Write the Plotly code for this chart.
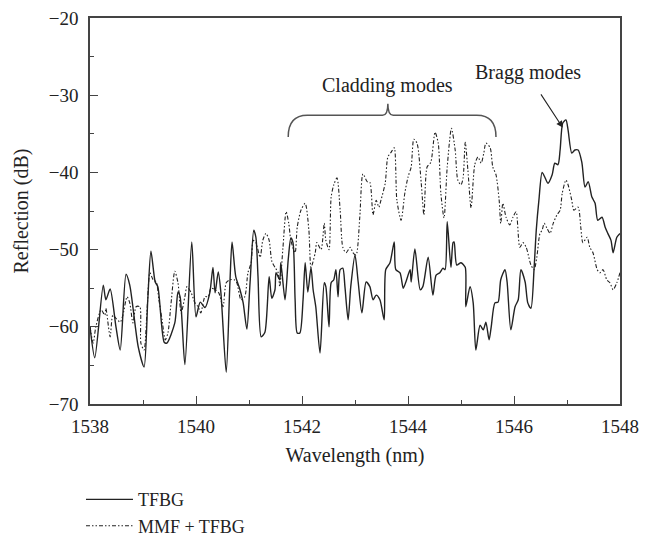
import plotly.graph_objects as go

# TFBG (solid)
tfbg_wl = [1538.00, 1538.09, 1538.25, 1538.30, 1538.38, 1538.49, 1538.57, 1538.68, 1538.75, 1538.91,
           1539.02, 1539.09, 1539.15, 1539.23, 1539.28, 1539.40, 1539.45, 1539.60, 1539.66, 1539.70,
           1539.79, 1539.92, 1540.00, 1540.08, 1540.17, 1540.26, 1540.32, 1540.36, 1540.42, 1540.47,
           1540.57, 1540.64, 1540.68, 1540.75, 1540.83, 1540.89, 1540.96, 1541.02, 1541.09, 1541.13,
           1541.17, 1541.23, 1541.30, 1541.38, 1541.43, 1541.49, 1541.51, 1541.58, 1541.60, 1541.68,
           1541.74, 1541.79, 1541.83, 1541.87, 1541.91, 1541.96, 1542.02, 1542.06, 1542.11, 1542.17,
           1542.21, 1542.26, 1542.34, 1542.42, 1542.45, 1542.51, 1542.55, 1542.60, 1542.64, 1542.68,
           1542.72, 1542.77, 1542.81, 1542.87, 1542.92, 1543.00, 1543.06, 1543.13, 1543.21, 1543.28,
           1543.34, 1543.40, 1543.47, 1543.55, 1543.58, 1543.66, 1543.74, 1543.77, 1543.85, 1543.91,
           1543.96, 1544.04, 1544.06, 1544.13, 1544.23, 1544.28, 1544.38, 1544.47, 1544.53, 1544.60,
           1544.66, 1544.70, 1544.74, 1544.81, 1544.85, 1544.87, 1544.92, 1545.00, 1545.08, 1545.09,
           1545.17, 1545.23, 1545.28, 1545.36, 1545.42, 1545.47, 1545.53, 1545.57, 1545.64, 1545.70,
           1545.75, 1545.83, 1545.87, 1545.94, 1546.02, 1546.08, 1546.13, 1546.21, 1546.26, 1546.32,
           1546.38, 1546.42, 1546.47, 1546.53, 1546.58, 1546.64, 1546.72, 1546.77, 1546.83, 1546.87,
           1546.92, 1546.98, 1547.02, 1547.09, 1547.15, 1547.21, 1547.28, 1547.34, 1547.40, 1547.47,
           1547.53, 1547.58, 1547.66, 1547.72, 1547.77, 1547.83, 1547.87, 1547.94, 1548.00]
tfbg_db = [-60.0, -64.0, -54.6, -56.5, -55.1, -60.0, -63.0, -53.2, -54.6, -62.6,
           -65.2, -56.5, -50.2, -54.2, -54.8, -62.0, -62.1, -59.5, -55.5, -56.1,
           -64.9, -49.0, -58.7, -56.8, -57.5, -55.6, -52.3, -55.6, -52.9, -55.6,
           -65.9, -54.3, -49.0, -53.5, -55.2, -56.9, -60.3, -54.3, -47.5, -48.4,
           -53.5, -61.3, -60.7, -53.5, -56.3, -55.2, -53.0, -53.9, -51.7, -56.5,
           -51.3, -48.5, -49.1, -56.5, -60.8, -60.8, -56.5, -51.7, -55.5, -52.3,
           -55.2, -57.4, -63.4, -54.3, -54.8, -60.0, -54.3, -53.9, -52.6, -56.1,
           -52.6, -52.4, -54.8, -59.1, -54.8, -50.7, -54.2, -58.2, -54.2, -54.8,
           -56.5, -55.9, -56.5, -59.1, -52.6, -51.7, -49.0, -52.6, -53.0, -55.0,
           -54.2, -52.6, -54.2, -49.9, -55.2, -54.8, -51.0, -55.9, -53.3, -53.0,
           -52.4, -52.6, -46.4, -52.3, -49.1, -49.0, -52.0, -51.7, -52.3, -57.4,
           -54.8, -56.9, -63.0, -59.8, -60.4, -59.4, -61.7, -60.0, -56.9, -56.8,
           -53.9, -52.6, -54.2, -60.4, -57.4, -56.5, -52.6, -54.2, -56.9, -57.6,
           -52.3, -47.5, -43.6, -40.0, -40.6, -41.4, -40.3, -38.8, -39.0, -37.1,
           -33.6, -33.2, -34.5, -37.5, -37.1, -37.1, -38.7, -41.9, -41.2, -43.2,
           -44.0, -46.2, -45.8, -47.1, -47.9, -48.8, -50.4, -48.4, -47.9]

# MMF + TFBG (dash-dot)
mmf_wl = [1538.00, 1538.06, 1538.11, 1538.21, 1538.28, 1538.30, 1538.38, 1538.43, 1538.49, 1538.57,
          1538.62, 1538.70, 1538.75, 1538.81, 1538.87, 1538.94, 1538.96, 1539.02, 1539.08, 1539.13,
          1539.19, 1539.25, 1539.30, 1539.36, 1539.42, 1539.47, 1539.53, 1539.60, 1539.66, 1539.72,
          1539.79, 1539.83, 1539.91, 1539.98, 1540.04, 1540.09, 1540.17, 1540.23, 1540.28, 1540.36,
          1540.43, 1540.51, 1540.57, 1540.64, 1540.72, 1540.77, 1540.85, 1540.92, 1540.98, 1541.04,
          1541.08, 1541.13, 1541.21, 1541.26, 1541.32, 1541.38, 1541.43, 1541.49, 1541.55, 1541.58,
          1541.64, 1541.70, 1541.75, 1541.79, 1541.87, 1541.91, 1541.98, 1542.06, 1542.13, 1542.17,
          1542.25, 1542.28, 1542.36, 1542.42, 1542.45, 1542.51, 1542.55, 1542.60, 1542.66, 1542.72,
          1542.77, 1542.83, 1542.91, 1542.96, 1543.02, 1543.09, 1543.15, 1543.23, 1543.28, 1543.34,
          1543.40, 1543.45, 1543.49, 1543.57, 1543.62, 1543.68, 1543.74, 1543.79, 1543.87, 1543.94,
          1544.00, 1544.06, 1544.11, 1544.17, 1544.25, 1544.30, 1544.36, 1544.43, 1544.51, 1544.57,
          1544.62, 1544.68, 1544.74, 1544.82, 1544.89, 1544.94, 1545.00, 1545.04, 1545.08, 1545.13,
          1545.19, 1545.26, 1545.32, 1545.38, 1545.43, 1545.47, 1545.55, 1545.60, 1545.66, 1545.72,
          1545.75, 1545.79, 1545.85, 1545.92, 1545.98, 1546.04, 1546.11, 1546.17, 1546.23, 1546.32,
          1546.38, 1546.43, 1546.49, 1546.53, 1546.57, 1546.62, 1546.68, 1546.74, 1546.81, 1546.87,
          1546.91, 1546.98, 1547.02, 1547.09, 1547.13, 1547.21, 1547.26, 1547.30, 1547.38, 1547.43,
          1547.49, 1547.57, 1547.62, 1547.68, 1547.75, 1547.81, 1547.87, 1547.94, 1548.00]
mmf_db = [-60.0, -62.1, -60.0, -57.8, -58.5, -57.6, -61.3, -58.5, -58.9, -59.4,
          -58.5, -56.1, -56.9, -59.5, -57.4, -57.4, -62.1, -63.0, -57.4, -53.0,
          -53.9, -54.2, -56.5, -59.1, -61.7, -60.8, -56.9, -52.8, -54.3, -58.2,
          -56.1, -54.8, -55.6, -56.9, -57.4, -58.2, -56.1, -56.1, -55.0, -55.2,
          -55.6, -57.4, -54.3, -53.9, -53.9, -54.3, -56.5, -56.1, -53.0, -51.7,
          -48.8, -49.1, -51.0, -48.8, -47.9, -48.8, -51.5, -52.3, -53.0, -54.8,
          -49.8, -45.1, -46.6, -48.8, -50.4, -47.1, -44.9, -44.0, -47.5, -52.3,
          -50.4, -49.1, -50.0, -46.6, -48.8, -50.0, -43.2, -41.6, -40.7, -44.9,
          -49.7, -50.4, -49.7, -50.4, -50.7, -45.8, -40.2, -41.2, -41.3, -45.5,
          -43.6, -44.5, -43.6, -41.4, -38.0, -37.4, -36.8, -43.6, -46.2, -42.7,
          -40.6, -39.3, -35.7, -36.2, -41.4, -45.5, -39.3, -38.7, -34.8, -36.2,
          -42.7, -45.9, -39.3, -34.3, -37.1, -41.0, -41.6, -40.7, -36.1, -39.7,
          -44.6, -39.0, -38.0, -38.8, -37.5, -36.2, -36.8, -39.3, -40.3, -43.6,
          -46.6, -44.0, -45.8, -46.8, -45.8, -45.1, -49.7, -49.1, -49.7, -52.0,
          -52.6, -51.0, -47.9, -47.5, -46.6, -47.2, -47.9, -46.6, -45.5, -44.9,
          -42.7, -41.0, -41.6, -43.6, -44.9, -44.5, -47.1, -49.1, -48.4, -49.7,
          -50.4, -52.6, -53.0, -52.6, -53.9, -54.3, -55.2, -54.3, -53.0]

x_ticks = [1538, 1540, 1542, 1544, 1546, 1548]
y_ticks = [-70, -60, -50, -40, -30, -20]

FONT = "Liberation Serif"
INK = "#222222"

fig = go.Figure()
fig.add_trace(go.Scatter(x=tfbg_wl, y=tfbg_db, mode="lines", name="TFBG",
                         line=dict(color=INK, width=1.4, shape="spline", smoothing=0.7)))
fig.add_trace(go.Scatter(x=mmf_wl, y=mmf_db, mode="lines", name="MMF + TFBG",
                         line=dict(color=INK, width=1.1, shape="spline", smoothing=0.7,
                                   dash="4px,2px,1.5px,2px,1.5px,2px")))

axis_common = dict(showline=True, linecolor="#444444", linewidth=1.5, mirror=True,
                   ticks="inside", ticklen=8, tickwidth=1.2, tickcolor="#444444",
                   showgrid=False, zeroline=False, ticklabeloverflow="allow",
                   tickfont=dict(family=FONT, size=19, color=INK))

fig.update_xaxes(range=[1538, 1548], tickvals=x_ticks,
                 minor=dict(ticks="inside", ticklen=4, dtick=1, tickcolor="#444444", showgrid=False),
                 title=dict(text="Wavelength (nm)", font=dict(family=FONT, size=20, color=INK), standoff=12),
                 ticklabelstandoff=4, **axis_common)
fig.update_yaxes(range=[-70, -20], tickvals=y_ticks,
                 minor=dict(ticks="inside", ticklen=4, dtick=5, tickcolor="#444444", showgrid=False),
                 title=dict(text="Reflection (dB)", font=dict(family=FONT, size=20, color=INK), standoff=15),
                 ticklabelstandoff=6, **axis_common)

# brace over cladding modes
brace = ("M 1541.74,-35.4 Q 1541.74,-32.6 1542.10,-32.6 L 1543.52,-32.6 "
         "Q 1543.62,-32.6 1543.62,-31.1 Q 1543.62,-32.6 1543.72,-32.6 "
         "L 1545.30,-32.6 Q 1545.66,-32.6 1545.66,-35.4")
fig.add_shape(type="path", path=brace, xref="x", yref="y",
              line=dict(color="#555555", width=1.5))

fig.add_annotation(x=1543.62, y=-28.8, xref="x", yref="y", text="Cladding modes",
                   showarrow=False, font=dict(family=FONT, size=20, color=INK))
fig.add_annotation(x=1546.26, y=-27.1, xref="x", yref="y", text="Bragg modes",
                   showarrow=False, font=dict(family=FONT, size=20, color=INK))
fig.add_annotation(x=1546.92, y=-34.2, ax=1546.49, ay=-29.7, xref="x", yref="y",
                   axref="x", ayref="y", text="", showarrow=True, arrowhead=2,
                   arrowsize=1.2, arrowwidth=1.1, arrowcolor=INK)

fig.update_layout(
    width=650, height=539,
    margin=dict(l=90, r=30, t=18, b=135, autoexpand=False),
    plot_bgcolor="white", paper_bgcolor="white",
    font=dict(family=FONT, size=19, color=INK),
    showlegend=True,
    legend=dict(x=-0.017, xanchor="left", y=-0.2, yanchor="top",
                itemwidth=47,
                font=dict(family=FONT, size=18, color=INK),
                bgcolor="rgba(0,0,0,0)", tracegroupgap=0),
)

fig.write_html("out.html", config={"displayModeBar": False},
               post_script="document.body.style.margin='0';document.body.style.overflow='hidden';")
